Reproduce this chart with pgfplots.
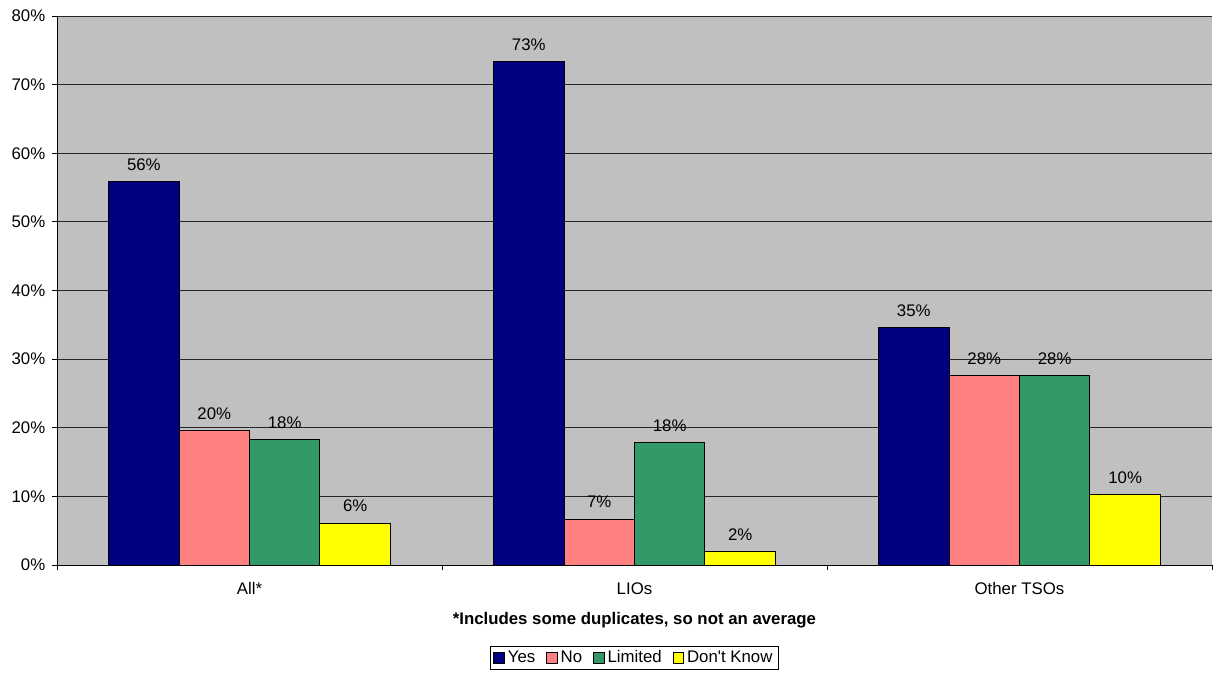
\documentclass[border=0pt]{standalone}
\usepackage{pgfplots}
\pgfplotsset{compat=1.18}
\usepackage{fontspec}
\setmainfont{Liberation Sans}

\definecolor{cYes}{HTML}{000080}
\definecolor{cNo}{HTML}{FF8080}
\definecolor{cLim}{HTML}{339966}
\definecolor{cDK}{HTML}{FFFF00}
\definecolor{plotbg}{HTML}{C0C0C0}

\begin{document}
\fontsize{16.8bp}{19bp}\selectfont
\begin{tikzpicture}
\begin{axis}[
  name=ax,
  at={(0,0)}, anchor=south west,
  scale only axis,
  width=1155bp, height=549bp,
  ybar=0pt,
  bar width=0.183,
  xmin=-0.5, xmax=2.5,
  ymin=0, ymax=80,
  axis background/.style={fill=plotbg},
  axis x line*=bottom,
  axis y line*=left,
  axis line style={black, line width=1bp},
  xtick={0,1,2},
  xticklabels={All*, LIOs, Other TSOs},
  minor xtick={-0.5,0.5,1.5,2.5},
  major x tick style={draw=none},
  minor x tick style={black, line width=0.8bp},
  ytick={0,10,...,80},
  y tick style={black, line width=0.8bp},
  tick align=outside,
  major tick length=5bp,
  minor tick length=5bp,
  ymajorgrids,
  major grid style={black!85, line width=0.8bp},
  /pgf/number format/assume math mode=true,
  yticklabel={\pgfmathprintnumber{\tick}\%},
  yticklabel style={xshift=-1bp},
  xticklabel style={yshift=-7bp},
  xlabel={\textbf{*Includes some duplicates, so not an average}},
  xlabel style={yshift=-6bp},
  every axis plot/.append style={draw=black, line width=1bp},
  nodes near coords={\pgfmathprintnumber[fixed,precision=0]{\pgfplotspointmeta}\%},
  every node near coord/.append style={anchor=south, yshift=5bp, text=black},
  legend columns=-1,
  legend style={at={(0.5,-0.148)}, anchor=north, draw=black, line width=0.8bp,
    inner xsep=3bp, inner ysep=2bp,
    /tikz/every even column/.append style={column sep=8bp},
    /tikz/every odd column/.append style={column sep=0bp},
    nodes={inner xsep=3bp}},
  legend image code/.code={\draw[#1, line width=0.8bp] (0bp,-5.3bp) rectangle (10.6bp,5.3bp);},
]
\addplot[fill=cYes] coordinates {(0,55.9) (1,73.3) (2,34.6)};
\addplot[fill=cNo]  coordinates {(0,19.6) (1,6.7)  (2,27.6)};
\addplot[fill=cLim] coordinates {(0,18.3) (1,17.8) (2,27.6)};
\addplot[fill=cDK]  coordinates {(0,6.1)  (1,1.9)  (2,10.3)};
\legend{Yes, No, Limited, Don\textquotesingle t Know}
\end{axis}
\pgfresetboundingbox
\path[use as bounding box] (-57bp,-110bp) rectangle (1156bp,565bp);
\end{tikzpicture}
\end{document}
